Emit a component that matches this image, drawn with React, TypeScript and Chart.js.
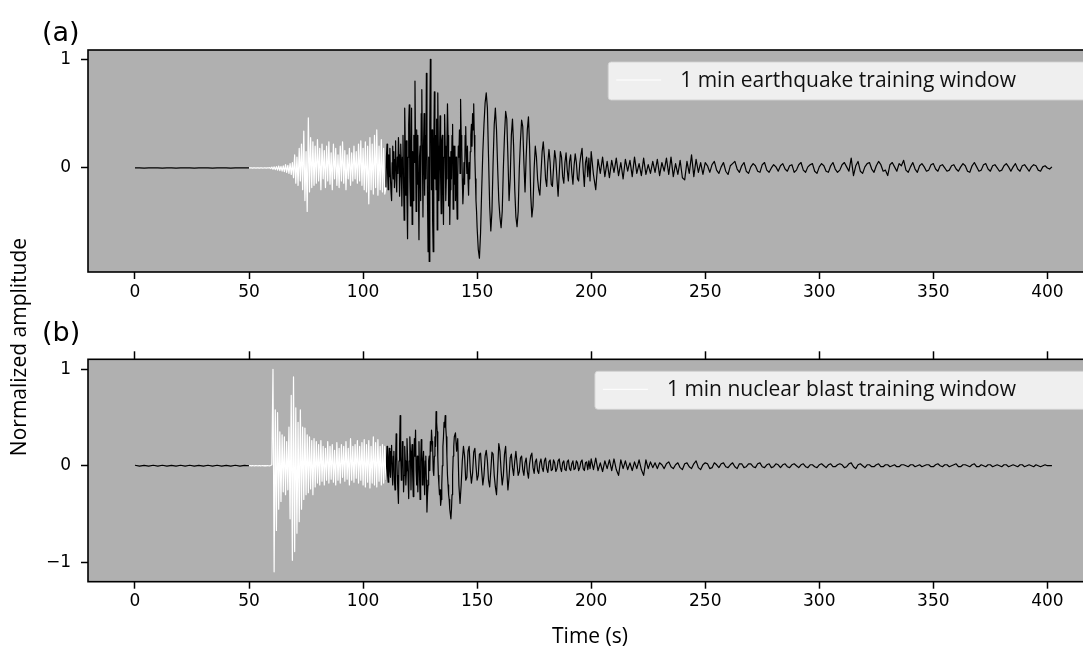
import React, { useEffect, useRef } from "react";
import { Chart, registerables } from "chart.js";

Chart.register(...registerables);

// ---------- ticks ----------
const xTicks = [0, 50, 100, 150, 200, 250, 300, 350, 400];
const xTickLabels = ["0", "50", "100", "150", "200", "250", "300", "350", "400"];
const yTicksA = [0, 1];
const yTickLabelsA = ["0", "1"];
const yTicksB = [-1, 0, 1];
const yTickLabelsB = ["\u22121", "0", "1"];

const legendA = "1 min earthquake training window";
const legendB = "1 min nuclear blast training window";

// ---------- sampling (start time, step in s) ----------
const preStart = 0, preStep = 2;
const winStart = 50, winStep = 0.5;
const burstStart = 110, burstStep = 0.25;
const strongStep = 0.5;
const eqStrongStart = 150;
const nbStrongStart = 140;
const codaStart = 200, codaStep = 1;

// ---------- (a) earthquake ----------
const eqPre = [0, 0.001, -0.001, 0, 0.001, 0, -0.001, 0, 0.001, -0.001, 0, 0, 0.001, -0.001, 0, 0.001, 0, -0.001, 0, 0.001, 0, -0.001, 0, 0.001, 0, 0];

const eqWindow = [
  0, 0, 0.002, -0.002, 0, 0.002, -0.001, 0, 0.001, -0.002,
  0, 0.002, -0.001, 0, 0.002, -0.002, 0.001, 0, 0.003, -0.005,
  0.008, -0.012, 0.01, -0.015, 0.012, -0.02, 0.018, -0.025, 0.015, -0.03,
  0.02, -0.035, 0.03, -0.04, 0.025, -0.05, 0.04, -0.06, 0.05, -0.09,
  0.12, -0.14, 0.1, -0.16, 0.18, -0.12, 0.22, -0.2, 0.34, -0.3,
  0.15, -0.4, 0.46, -0.22, 0.28, -0.18, 0.24, -0.16, 0.2, -0.14,
  0.26, -0.12, 0.18, -0.2, 0.22, -0.1, 0.16, -0.18, 0.2, -0.12,
  0.24, -0.15, 0.14, -0.2, 0.22, -0.1, 0.18, -0.16, 0.12, -0.18,
  0.2, -0.12, 0.24, -0.14, 0.16, -0.2, 0.12, -0.1, 0.18, -0.16,
  0.14, -0.12, 0.2, -0.1, 0.15, -0.14, 0.22, -0.12, 0.25, -0.16,
  0.18, -0.2, 0.24, -0.22, 0.2, -0.33, 0.28, -0.2, 0.22, -0.24,
  0.3, -0.18, 0.35, -0.25, 0.2, -0.2, 0.26, -0.22, 0.18, -0.24,
];

// 110 s .. 149.75 s every 0.25 s
const eqBurst = [
  -0.18, 0.10, 0.22, -0.05, -0.20, 0.12, -0.08, 0.18,
  -0.10, -0.22, -0.30, 0.05, 0.20, -0.10, 0.15, -0.18,
  0.08, 0.25, -0.12, -0.22, 0.10, -0.05, 0.28, 0.12,
  -0.26, -0.08, 0.22, 0.05, -0.35, 0.10, 0.30, -0.15,
  -0.48, 0.55, 0.20, -0.25, 0.25, -0.30, -0.65, 0.10,
  0.40, 0.58, -0.10, -0.35, 0.20, 0.55, -0.52, 0.15,
  -0.30, 0.30, 0.05, 0.80, 0.20, -0.40, 0.35, -0.15,
  0.30, -0.20, -0.66, 0.10, 0.20, -0.30, 0.50, 0.72,
  0.15, -0.45, 0.20, 0.50, -0.25, 0.30, -0.10, 0.87,
  0.25, -0.30, -0.77, 0.10, -0.86, 0.40, 1.00, 0.30,
  -0.20, 0.35, -0.50, -0.77, 0.20, 0.70, -0.10, 0.30,
  -0.20, 0.45, -0.57, 0.69, 0.20, -0.30, 0.10, 0.48,
  -0.10, -0.42, 0.25, 0.30, -0.20, -0.52, 0.10, 0.49,
  0.20, -0.30, -0.10, 0.20, 0.59, 0.30, -0.35, 0.10,
  -0.52, -0.20, 0.15, -0.10, 0.30, 0.40, -0.38, 0.20,
  -0.15, 0.20, -0.30, 0.10, -0.20, -0.47, -0.10, 0.20,
  0.10, 0.35, -0.05, 0.63, 0.30, 0.20, -0.10, -0.33,
  -0.20, 0.05, -0.15, 0.30, 0.38, 0.10, -0.05, 0.20,
  -0.10, -0.25, 0.05, -0.10, 0.15, 0.30, 0.40, 0.20,
  0.50, 0.35, 0.59, 0.30, 0.10, -0.10, -0.30, -0.40,
];

// 150 s .. 199.5 s every 0.5 s
const eqStrong = [
  -0.55, -0.75, -0.83, -0.60, -0.20, 0.15, 0.40, 0.60, 0.69, 0.55,
  0.10, -0.35, -0.58, -0.40, 0.05, 0.40, 0.55, 0.35, 0.00, -0.30,
  -0.45, -0.55, -0.40, 0.00, 0.30, 0.52, 0.45, 0.10, -0.30, -0.10,
  0.30, 0.45, 0.20, -0.20, -0.45, -0.54, -0.40, 0.00, 0.25, 0.44,
  0.38, 0.05, -0.22, 0.10, 0.35, 0.47, 0.20, -0.25, -0.45, -0.35,
  0.00, 0.20, 0.10, -0.10, -0.20, -0.25, -0.05, 0.15, 0.24, 0.10,
  -0.10, -0.17, 0.05, 0.17, 0.05, -0.15, -0.17, 0.00, 0.16, 0.08,
  -0.10, -0.26, -0.05, 0.15, 0.10, -0.08, -0.14, 0.05, 0.14, -0.02,
  -0.12, 0.06, 0.12, -0.04, -0.15, 0.02, 0.13, 0.05, -0.10, -0.12,
  0.04, 0.12, 0.18, -0.02, -0.17, 0.05, 0.10, -0.08, 0.09, -0.12,
];

const eqCoda = [
  0.15, -0.06, -0.20, 0.08, -0.05, 0.10, -0.08, 0.06, -0.09, 0.07,
  -0.04, 0.09, -0.07, 0.05, -0.10, 0.08, -0.03, 0.07, -0.08, 0.10,
  -0.05, 0.04, -0.07, 0.09, -0.06, 0.03, -0.05, 0.06, -0.04, 0.08,
  -0.07, 0.05, -0.03, 0.09, -0.06, 0.10, -0.08, 0.04, -0.06, 0.07,
  -0.09, -0.11, 0.06, -0.05, 0.12, -0.08, 0.08, -0.04, 0.05, -0.06,
  0.05, 0.02, -0.04, 0.03, 0.06, -0.02, -0.05, 0.01, 0.05, -0.03,
  -0.06, 0.02, 0.04, 0.06, -0.01, -0.04, 0.02, 0.05, -0.03, -0.05,
  0.01, 0.04, 0.02, -0.03, -0.04, 0.03, 0.05, -0.02, -0.04, 0.00,
  0.03, 0.01, -0.03, 0.02, 0.04, -0.01, -0.03, 0.02, 0.03, -0.04,
  -0.02, 0.03, 0.05, -0.02, -0.04, 0.01, 0.03, 0.04, -0.03, -0.05,
  0.01, 0.04, 0.02, -0.03, -0.04, 0.02, 0.05, -0.01, -0.04, -0.02,
  0.03, 0.05, 0.01, -0.03, 0.09, -0.07, 0.02, 0.06, -0.03, -0.05,
  0.01, 0.04, 0.05, -0.01, -0.04, 0.02, 0.06, 0.03, -0.03, -0.02,
  -0.07, 0.03, 0.05, 0.01, -0.03, 0.04, 0.02, 0.07, -0.02, -0.04,
  0.01, 0.05, -0.01, -0.04, 0.02, 0.04, 0.01, -0.03, -0.02, 0.03,
  0.04, -0.01, -0.03, 0.02, 0.03, 0.00, -0.03, -0.02, 0.02, 0.03,
  -0.01, -0.03, 0.01, 0.04, 0.02, -0.03, -0.04, 0.02, 0.05, 0.01,
  -0.03, -0.02, 0.03, 0.04, -0.01, -0.03, 0.02, 0.03, 0.00, -0.03,
  -0.02, 0.02, 0.04, 0.01, -0.03, 0.01, 0.04, -0.01, -0.03, 0.02,
  0.03, 0.00, -0.03, 0.01, 0.03, 0.02, -0.02, -0.03, 0.01, 0.02,
  0.00, -0.01, 0.01,
];

// ---------- (b) nuclear blast ----------
const nbPre = [0.005, -0.005, 0.004, -0.005, 0.005, -0.004, 0.005, -0.005, 0.004, -0.005, 0.005, -0.004, 0.005, -0.005, 0.004, -0.005, 0.005, -0.004, 0.005, -0.005, 0.004, -0.005, 0.005, -0.004, 0.003, 0];

const nbWindow = [
  0, 0.002, -0.002, 0.001, 0, -0.002, 0.002, 0, -0.001, 0.002,
  -0.002, 0, 0.002, -0.001, 0.001, -0.002, 0.002, 0, -0.002, 0.002,
  0.01, 1.00, -1.10, 0.58, -0.67, 0.55, -0.45, 0.35, -0.37, 0.32,
  -0.27, 0.30, -0.30, 0.25, -0.25, 0.40, -0.55, 0.73, -0.98, 0.92,
  -0.89, 0.60, -0.70, 0.45, -0.58, 0.58, -0.45, 0.40, -0.35, 0.39,
  -0.30, 0.32, -0.28, 0.30, -0.24, 0.26, -0.30, 0.28, -0.22, 0.25,
  -0.18, 0.22, -0.20, 0.26, -0.16, 0.20, -0.20, 0.18, -0.15, 0.25,
  -0.18, 0.20, -0.14, 0.22, -0.17, 0.16, -0.20, 0.24, -0.15, 0.18,
  -0.18, 0.22, -0.12, 0.20, -0.16, 0.25, -0.14, 0.18, -0.20, 0.28,
  -0.15, 0.20, -0.17, 0.22, -0.13, 0.26, -0.18, 0.20, -0.15, 0.24,
  -0.20, 0.27, -0.22, 0.22, -0.17, 0.26, -0.23, 0.20, -0.18, 0.30,
  -0.20, 0.24, -0.22, 0.27, -0.16, 0.20, -0.20, 0.22, -0.18, 0.20,
];

// 110 s .. 139.75 s every 0.25 s
const nbBurst = [
  -0.15, 0.05, 0.20, -0.10, -0.17, 0.08, 0.18, -0.05,
  -0.12, 0.15, 0.21, -0.08, -0.20, 0.10, 0.15, -0.15,
  -0.25, 0.05, 0.33, 0.10, -0.10, -0.25, -0.39, 0.05,
  0.20, 0.52, 0.10, -0.15, -0.05, 0.25, 0.10, -0.27,
  -0.10, 0.20, 0.05, -0.20, -0.05, 0.28, 0.10, -0.15,
  -0.34, 0.05, 0.30, 0.15, -0.25, 0.10, 0.22, -0.10,
  -0.32, 0.05, 0.28, 0.10, 0.37, -0.05, -0.20, 0.10,
  -0.27, 0.05, 0.25, -0.10, -0.35, 0.05, 0.27, 0.10,
  -0.20, 0.05, 0.15, -0.10, -0.30, 0.05, 0.10, -0.15,
  -0.48, -0.30, -0.20, 0.05, 0.10, -0.05, 0.25, 0.15,
  0.37, 0.25, 0.20, -0.05, -0.10, 0.10, 0.30, 0.20,
  0.56, 0.45, 0.35, 0.10, -0.10, -0.20, -0.30, -0.25,
  -0.41, -0.35, -0.20, 0.00, 0.20, 0.30, 0.45, 0.40,
  0.52, 0.40, 0.30, 0.10, -0.10, -0.20, -0.30, -0.35,
  -0.45, -0.50, -0.55, -0.45, -0.30, -0.10, 0.10, 0.20,
];

// 140 s .. 199.5 s every 0.5 s
const nbStrong = [
  0.30, 0.34, 0.15, 0.28, -0.20, -0.39, -0.20, 0.05, 0.20, 0.10,
  -0.15, -0.12, 0.15, 0.20, -0.05, -0.18, -0.08, 0.14, 0.18, 0.00,
  -0.15, -0.10, 0.12, 0.13, -0.05, -0.20, -0.10, 0.10, 0.16, 0.05,
  -0.15, -0.22, -0.05, 0.14, 0.12, -0.10, -0.22, -0.30, -0.05, 0.23,
  0.15, -0.05, -0.20, -0.10, 0.12, 0.20, -0.05, -0.25, -0.12, 0.08,
  0.12, -0.02, -0.10, 0.05, 0.15, 0.02, -0.10, -0.06, 0.08, 0.10,
  -0.04, -0.10, 0.03, 0.08, -0.06, -0.13, 0.02, 0.10, 0.13, -0.02,
  -0.08, 0.04, 0.07, -0.05, -0.08, 0.03, 0.07, -0.02, -0.06, 0.05,
  0.08, -0.03, -0.07, 0.04, 0.06, -0.05, -0.04, 0.06, 0.03, -0.06,
  -0.03, 0.05, 0.07, -0.02, -0.06, 0.03, 0.05, -0.04, -0.05, 0.04,
  0.06, -0.03, -0.05, 0.02, 0.05, -0.04, -0.03, 0.05, 0.03, -0.05,
  -0.02, 0.04, 0.06, -0.03, -0.05, 0.03, 0.04, -0.04, 0.05, -0.03,
];

const nbCoda = [
  0.07, -0.04, 0.08, -0.05, 0.03, -0.06, 0.05, -0.03, 0.06, -0.05,
  0.07, -0.04, -0.10, 0.06, -0.03, 0.05, -0.04, 0.03, -0.05, 0.04,
  -0.03, 0.06, -0.04, -0.10, 0.06, -0.03, 0.04, -0.02, 0.03, -0.03,
  0.03, 0.01, -0.03, 0.02, 0.04, -0.01, -0.03, 0.01, 0.03, -0.02,
  -0.04, 0.02, 0.03, -0.01, -0.03, 0.02, 0.05, -0.02, -0.04, 0.01,
  0.03, 0.02, -0.03, -0.02, 0.03, 0.01, -0.02, 0.02, 0.03, -0.01,
  -0.02, 0.01, 0.03, -0.01, -0.03, 0.02, 0.02, -0.02, -0.01, 0.02,
  0.02, -0.01, -0.02, 0.02, 0.03, -0.01, -0.02, 0.01, 0.02, -0.02,
  -0.01, 0.02, 0.01, -0.02, 0.01, 0.02, -0.01, -0.02, 0.01, 0.02,
  0.00, -0.02, 0.01, 0.02, -0.01, -0.02, 0.01, 0.01, -0.01, -0.02,
  0.01, 0.02, 0.00, -0.02, 0.01, 0.02, -0.01, -0.01, 0.01, 0.02,
  0.01, -0.02, -0.01, 0.02, 0.03, -0.01, -0.03, 0.01, 0.02, 0.00,
  -0.02, 0.01, 0.01, -0.01, -0.01, 0.01, 0.02, -0.01, -0.01, 0.01,
  0.01, -0.01, 0.00, 0.01, -0.01, -0.01, 0.01, 0.01, 0.00, -0.01,
  0.01, 0.01, -0.01, 0.00, 0.01, -0.01, 0.00, 0.01, 0.01, -0.01,
  -0.01, 0.01, 0.02, 0.00, -0.01, 0.01, 0.01, -0.01, 0.00, 0.01,
  0.02, -0.01, -0.01, 0.01, 0.01, 0.00, -0.01, 0.01, 0.02, -0.01,
  -0.01, 0.01, 0.00, -0.01, 0.01, 0.01, -0.01, 0.00, 0.01, 0.00,
  -0.01, 0.01, 0.01, -0.01, 0.00, 0.01, 0.00, -0.01, 0.01, 0.01,
  -0.01, 0.00, 0.01, 0.00, -0.01, 0.01, 0.00, -0.01, 0.00, 0.01,
  0.00, 0.00, 0.00,
];

// ---------- helpers ----------
type Pt = { x: number; y: number };
const toPoints = (start: number, step: number, values: number[]): Pt[] =>
  values.map((y, i) => ({ x: start + i * step, y }));

const X_MIN = -20.6;
const X_MAX = 422.2;
const PANEL_BG = "#b0b0b0";
const TICK_FONT = { family: '"DejaVu Sans", sans-serif', size: 17 };
const LABEL_FAMILY = '"Open Sans", sans-serif';
const LINE_W = 1.2;

const panelPlugin = {
  id: "panel",
  beforeDraw(chart: any) {
    const { ctx, chartArea } = chart;
    ctx.save();
    ctx.fillStyle = PANEL_BG;
    ctx.fillRect(chartArea.left, chartArea.top, chartArea.right - chartArea.left, chartArea.bottom - chartArea.top);
    ctx.restore();
  },
  afterDatasetsDraw(chart: any, _args: any, opts: any) {
    const { ctx, chartArea } = chart;
    const { left, top, right, bottom } = chartArea;
    ctx.save();
    ctx.strokeStyle = "#000";
    ctx.lineWidth = 1.6;
    ctx.strokeRect(left, top, right - left, bottom - top);

    const fontPx = opts.fontSize || 21;
    ctx.font = `${fontPx}px ${LABEL_FAMILY}`;
    const label: string = opts.label;
    const tw = ctx.measureText(label).width;
    const textX = opts.textRight - tw;
    const lineX1 = textX - 19;
    const lineX0 = lineX1 - 45;
    const boxL = lineX0 - 8;
    const boxT = top + opts.boxTop;
    const boxH = opts.boxHeight;
    const boxR = right - 10;
    const r = 3;
    ctx.beginPath();
    ctx.moveTo(boxL + r, boxT);
    ctx.lineTo(boxR - r, boxT);
    ctx.quadraticCurveTo(boxR, boxT, boxR, boxT + r);
    ctx.lineTo(boxR, boxT + boxH - r);
    ctx.quadraticCurveTo(boxR, boxT + boxH, boxR - r, boxT + boxH);
    ctx.lineTo(boxL + r, boxT + boxH);
    ctx.quadraticCurveTo(boxL, boxT + boxH, boxL, boxT + boxH - r);
    ctx.lineTo(boxL, boxT + r);
    ctx.quadraticCurveTo(boxL, boxT, boxL + r, boxT);
    ctx.closePath();
    ctx.fillStyle = "rgba(255,255,255,0.8)";
    ctx.fill();
    ctx.strokeStyle = "rgba(210,210,210,0.9)";
    ctx.lineWidth = 1;
    ctx.stroke();

    const cy = boxT + boxH / 2;
    ctx.strokeStyle = "#ffffff";
    ctx.lineWidth = 1;
    ctx.beginPath();
    ctx.moveTo(lineX0, cy - 1);
    ctx.lineTo(lineX1, cy - 1);
    ctx.stroke();

    ctx.fillStyle = "#111";
    ctx.textBaseline = "middle";
    ctx.textAlign = "left";
    ctx.fillText(label, textX, cy);
    ctx.restore();
  },
};

const tickFromArray = (ticks: number[]) => (axis: any) => {
  axis.ticks = ticks.map((v) => ({ value: v }));
};

const lineDs = (label: string, data: Pt[], color: string, order: number) => ({
  label,
  data,
  borderColor: color,
  backgroundColor: color,
  borderWidth: LINE_W,
  borderJoinStyle: "round",
  pointRadius: 0,
  tension: 0,
  fill: false,
  order,
});

function buildConfig(
  pre: number[], win: number[], burst: number[], strongStart: number, strong: number[], coda: number[],
  yTicks: number[], yLabels: string[], yMin: number, yMax: number,
  legendLabel: string, withTop: boolean, padTop: number, xHeight: number,
) {
  const prePts = toPoints(preStart, preStep, pre);
  const winPts = toPoints(winStart, winStep, win);
  const postPts = toPoints(burstStart, burstStep, burst)
    .concat(toPoints(strongStart, strongStep, strong))
    .concat(toPoints(codaStart, codaStep, coda));
  const winConnected = winPts.concat([postPts[0]]);

  const gridCommon = {
    display: true,
    drawOnChartArea: false,
    drawTicks: true,
    tickLength: 7,
    tickWidth: 1.5,
    tickColor: "#000",
  };

  const scales: any = {
    x: {
      type: "linear",
      position: "bottom",
      min: X_MIN,
      max: X_MAX,
      afterBuildTicks: tickFromArray(xTicks),
      afterFit: (s: any) => { s.height = xHeight; },
      ticks: {
        callback: (v: number) => xTickLabels[xTicks.indexOf(v)],
        font: TICK_FONT,
        color: "#000",
        padding: 3,
        maxRotation: 0,
        autoSkip: false,
      },
      grid: gridCommon,
      border: { display: false },
    },
    y: {
      type: "linear",
      min: yMin,
      max: yMax,
      afterBuildTicks: tickFromArray(yTicks),
      afterFit: (s: any) => { s.width = 88; },
      ticks: {
        callback: (v: number) => yLabels[yTicks.indexOf(v)],
        font: TICK_FONT,
        color: "#000",
        padding: 10,
        autoSkip: false,
      },
      grid: gridCommon,
      border: { display: false },
    },
  };
  if (withTop) {
    scales.x2 = {
      type: "linear",
      position: "top",
      min: X_MIN,
      max: X_MAX,
      afterBuildTicks: tickFromArray(xTicks),
      afterFit: (s: any) => { s.height = 8; },
      ticks: { callback: () => "", padding: 0, autoSkip: false, font: TICK_FONT },
      grid: { ...gridCommon, tickLength: 8 },
      border: { display: false },
    };
  }

  return {
    type: "line",
    data: {
      datasets: [
        lineDs("pre-event", prePts, "#000000", 2),
        lineDs(legendLabel, winConnected, "#ffffff", 1),
        lineDs("post-window", postPts, "#000000", 2),
      ],
    },
    options: {
      animation: false,
      responsive: false,
      events: [],
      layout: { padding: { top: padTop, right: 22, bottom: 0, left: 0 } },
      plugins: {
        legend: { display: false },
        tooltip: { enabled: false },
        panel: { label: legendLabel, textRight: 1016, boxTop: 12, boxHeight: 38, fontSize: 21 },
      },
      scales,
    },
    plugins: [panelPlugin],
  };
}

export default function App() {
  const refA = useRef<HTMLCanvasElement>(null);
  const refB = useRef<HTMLCanvasElement>(null);

  useEffect(() => {
    const a = new Chart(refA.current as any, buildConfig(
      eqPre, eqWindow, eqBurst, eqStrongStart, eqStrong, eqCoda,
      yTicksA, yTickLabelsA, -0.957, 1.085, legendA, false, 50, 28,
    ) as any);
    const b = new Chart(refB.current as any, buildConfig(
      nbPre, nbWindow, nbBurst, nbStrongStart, nbStrong, nbCoda,
      yTicksB, yTickLabelsB, -1.202, 1.103, legendB, true, 51.3, 66.3,
    ) as any);
    return () => { a.destroy(); b.destroy(); };
  }, []);

  const abs: React.CSSProperties = { position: "absolute", whiteSpace: "nowrap", lineHeight: 1 };

  return (
    <div style={{ position: "fixed", left: 0, top: 0, width: 1083, height: 648, overflow: "hidden", background: "#fff" }}>
      <canvas ref={refA} width={1120} height={300} style={{ position: "absolute", left: 0, top: 0, display: "block" }} />
      <canvas ref={refB} width={1120} height={348} style={{ position: "absolute", left: 0, top: 300, display: "block" }} />
      <div style={{ ...abs, left: 42, top: 31, transform: "translateY(-50%)", fontFamily: '"DejaVu Sans", sans-serif', fontSize: 27 }}>(a)</div>
      <div style={{ ...abs, left: 42, top: 331, transform: "translateY(-50%)", fontFamily: '"DejaVu Sans", sans-serif', fontSize: 27 }}>(b)</div>
      <div style={{ ...abs, left: 18, top: 347, transform: "translate(-50%, -50%) rotate(-90deg)", fontFamily: LABEL_FAMILY, fontSize: 21 }}>Normalized amplitude</div>
      <div style={{ ...abs, left: 590, top: 635, transform: "translate(-50%, -50%)", fontFamily: LABEL_FAMILY, fontSize: 21 }}>Time (s)</div>
    </div>
  );
}
